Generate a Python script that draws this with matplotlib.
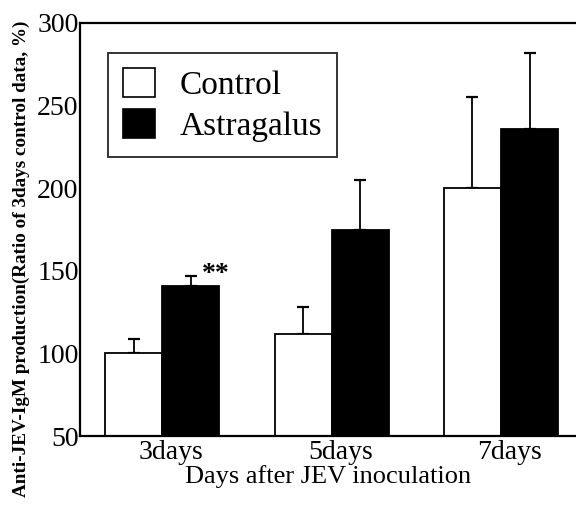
import matplotlib
matplotlib.use("Agg")
import matplotlib.pyplot as plt
from matplotlib.patches import Patch
import numpy as np

days = ["3days", "5days", "7days"]
control = [100, 112, 200]
control_err = [9, 16, 55]
astragalus = [141, 175, 236]
astragalus_err = [6, 30, 46]

plt.rcParams["font.family"] = ["Liberation Serif", "DejaVu Serif"]

fig = plt.figure(figsize=(5.76, 5.08), dpi=100)
ax = fig.add_axes([80 / 576, 1 - 436 / 508, 1 - 80 / 576, (436 - 23) / 508])

x = np.arange(len(days))
w = 0.337
ax.bar(x - w / 2, control, w, color="white", edgecolor="black", linewidth=1.3, zorder=2)
ax.bar(x + w / 2, astragalus, w, color="black", edgecolor="black", linewidth=1.3, zorder=2)
ax.errorbar(x - w / 2, control, yerr=[np.zeros(3), control_err], fmt="none",
            ecolor="black", elinewidth=1.3, capsize=4.5, capthick=1.6, zorder=1)
ax.errorbar(x + w / 2, astragalus, yerr=[np.zeros(3), astragalus_err], fmt="none",
            ecolor="black", elinewidth=1.3, capsize=4.5, capthick=1.6, zorder=1)

# significance mark over the 3-day Astragalus bar
ax.text(x[0] + w / 2 + 0.145, astragalus[0] + astragalus_err[0] + 1, "**",
        fontsize=20, fontweight="bold", ha="center", va="center")

ax.set_xlim(-0.487, 2.443)
ax.set_ylim(50, 300)
ax.set_yticks([50, 100, 150, 200, 250, 300])
ax.set_xticks(x + 0.05)
ax.set_xticklabels(days)
ax.tick_params(axis="both", length=0, labelsize=20)
ax.tick_params(axis="x", pad=3)
ax.tick_params(axis="y", pad=1)
ax.spines["right"].set_visible(False)
for s in ["left", "top", "bottom"]:
    ax.spines[s].set_linewidth(1.6)

ax.set_xlabel("Days after JEV inoculation", fontsize=19, labelpad=0)
ax.set_ylabel("Anti-JEV-IgM production(Ratio of 3days control data, %)",
              fontsize=13.8, fontweight="bold")
ax.yaxis.set_label_coords(-0.1, 0.43)

handles = [Patch(facecolor="white", edgecolor="black", linewidth=1.2),
           Patch(facecolor="black", edgecolor="black", linewidth=1.2)]
leg = ax.legend(handles, ["Control", "Astragalus"], loc="upper left",
                bbox_to_anchor=(108 / 576, 1 - 53 / 508), bbox_transform=fig.transFigure,
                fontsize=24, frameon=True, fancybox=False, edgecolor="black",
                handlelength=0.95, handleheight=0.95, handletextpad=0.75,
                labelspacing=0.25, borderpad=0.45, borderaxespad=0)
leg.get_frame().set_linewidth(1.4)

fig.savefig("out.png", dpi=100)
